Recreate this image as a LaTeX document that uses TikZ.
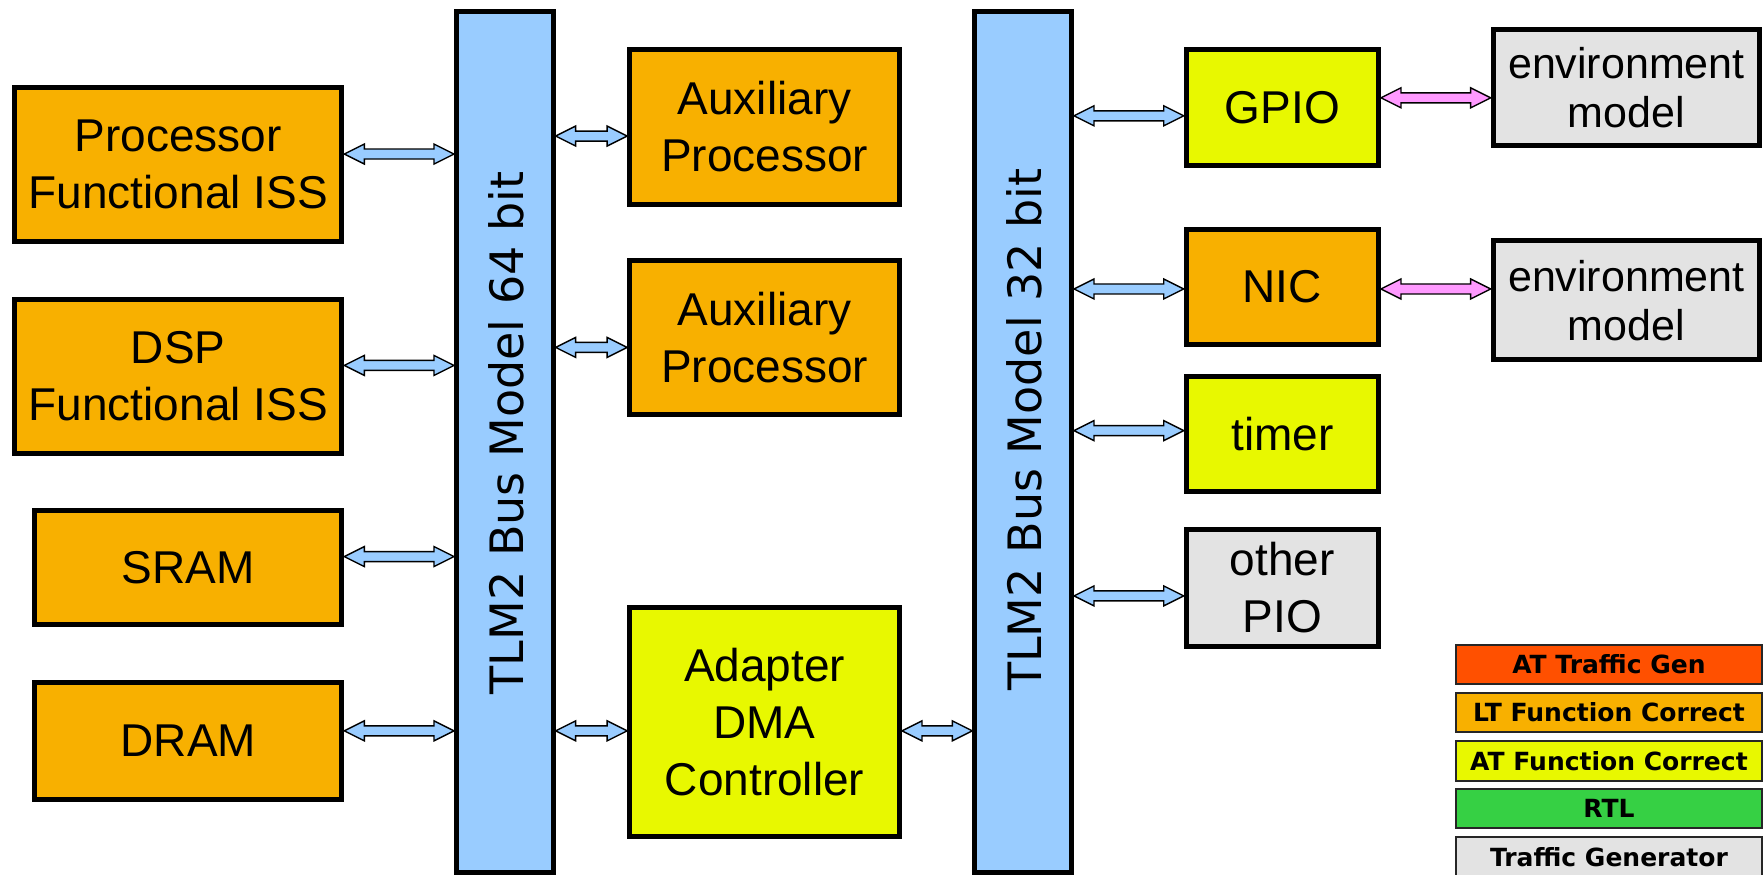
\documentclass[tikz,border=0pt]{standalone}
\usepackage{fontspec}
\setmainfont{Liberation Sans}
\newfontfamily\busfont{DejaVu Sans}
\usetikzlibrary{calc}

\definecolor{ltorange}{HTML}{F8B000}
\definecolor{atyellow}{HTML}{E8F800}
\definecolor{busblue}{HTML}{99CCFF}
\definecolor{envgrey}{HTML}{E3E3E3}
\definecolor{linkpink}{HTML}{FF99FF}
\definecolor{atred}{HTML}{FF5000}
\definecolor{rtlgreen}{HTML}{36D044}

\tikzset{
  dims/.style 2 args={minimum width=#1*1.1244pt, minimum height=#2*1.1244pt},
  blk/.style={draw=black, line width=5pt, inner sep=0pt, align=center,
    font=\fontsize{46}{57}\selectfont},
  envblk/.style={blk, fill=envgrey, font=\fontsize{43}{49}\selectfont},
  busbar/.style={draw=black, line width=5pt, inner sep=0pt, fill=busblue},
  buslabel/.style={rotate=90, inner sep=0pt, font=\busfont\fontsize{46}{50}\selectfont},
  legendfont/.style={font=\busfont\bfseries\fontsize{25}{30}\selectfont},
  legendbox/.style={draw=black!85, line width=2pt, inner sep=0pt, align=center, legendfont},
  link/.style={draw=black, line width=1.4pt, line join=miter}
}

% horizontal double-headed block arrow between two node anchors at height #3
\newcommand\linkarrow[4]{%
  \draw[link, fill=#4] let \p1=(#1), \p2=(#2), \p3=(0,#3) in
    (\x1,\y3) -- (\x1+20pt,\y3+10pt) -- (\x1+20pt,\y3+5pt)
    -- (\x2-20pt,\y3+5pt) -- (\x2-20pt,\y3+10pt) -- (\x2,\y3)
    -- (\x2-20pt,\y3-10pt) -- (\x2-20pt,\y3-5pt)
    -- (\x1+20pt,\y3-5pt) -- (\x1+20pt,\y3-10pt) -- cycle;}

\begin{document}
\begin{tikzpicture}[x=1.1244pt, y=-1.1244pt]
\useasboundingbox (0,0) rectangle (1568,778);

% buses
\node[busbar, dims={86}{766}] (bus64) at (449,393) {};
\node[buslabel] (lbl64) at (450,385) {TLM2 Bus Model 64 bit};
\node[busbar, dims={86}{766}] (bus32) at (910,393) {};
\node[buslabel] (lbl32) at (911,382) {TLM2 Bus Model 32 bit};

% initiators and memories
\node[blk, fill=ltorange, dims={291}{137}] (proc) at (158.5,146.5) {Processor\\Functional ISS};
\node[blk, fill=ltorange, dims={291}{137}] (dsp) at (158.5,334.5) {DSP\\Functional ISS};
\node[blk, fill=ltorange, dims={273}{101}] (sram) at (167.5,504.5) {SRAM};
\node[blk, fill=ltorange, dims={273}{104}] (dram) at (167.5,659) {DRAM};

% middle column
\node[blk, fill=ltorange, dims={240}{138}] (aux1) at (680,113) {Auxiliary\\Processor};
\node[blk, fill=ltorange, dims={240}{137}] (aux2) at (680,300.5) {Auxiliary\\Processor};
\node[blk, fill=atyellow, dims={240}{204}] (dma) at (680,642) {Adapter\\DMA\\Controller};

% peripherals
\node[blk, fill=atyellow, dims={171}{103}] (gpio) at (1140.5,95.5) {GPIO};
\node[blk, fill=ltorange, dims={171}{102}] (nic) at (1140.5,255) {NIC};
\node[blk, fill=atyellow, dims={171}{102}] (timer) at (1140.5,386) {timer};
\node[blk, fill=envgrey, dims={171}{104}] (pio) at (1140.5,523) {other\\PIO};

% environment
\node[envblk, dims={237}{103}] (env1) at (1446.5,77.5) {environment\\model};
\node[envblk, dims={237}{106}] (env2) at (1446.5,267) {environment\\model};

% legend
\node[legendbox, fill=atred, dims={272}{34.7}] (lg1) at (1431,591) {AT Traffic Gen};
\node[legendbox, fill=ltorange, dims={272}{34.7}] (lg2) at (1431,633.6) {LT Function Correct};
\node[legendbox, fill=atyellow, dims={272}{35.6}] (lg3) at (1431,676.8) {AT Function Correct};
\node[legendbox, fill=rtlgreen, dims={272}{34.7}] (lg4) at (1431,719) {RTL};
\node[legendbox, fill=envgrey, dims={272}{67}] (lg5) at (1431,778) {};
\node[legendfont, inner sep=0pt] (lg5txt) at (1431,762) {Traffic Generator};

% connections
\linkarrow{proc.east}{bus64.west}{137}{busblue}
\linkarrow{dsp.east}{bus64.west}{325}{busblue}
\linkarrow{sram.east}{bus64.west}{495}{busblue}
\linkarrow{dram.east}{bus64.west}{650}{busblue}
\linkarrow{bus64.east}{aux1.west}{121}{busblue}
\linkarrow{bus64.east}{aux2.west}{309}{busblue}
\linkarrow{bus64.east}{dma.west}{650}{busblue}
\linkarrow{dma.east}{bus32.west}{650}{busblue}
\linkarrow{bus32.east}{gpio.west}{103}{busblue}
\linkarrow{bus32.east}{nic.west}{257}{busblue}
\linkarrow{bus32.east}{timer.west}{383}{busblue}
\linkarrow{bus32.east}{pio.west}{530}{busblue}
\linkarrow{gpio.east}{env1.west}{87}{linkpink}
\linkarrow{nic.east}{env2.west}{257}{linkpink}
\end{tikzpicture}
\end{document}
